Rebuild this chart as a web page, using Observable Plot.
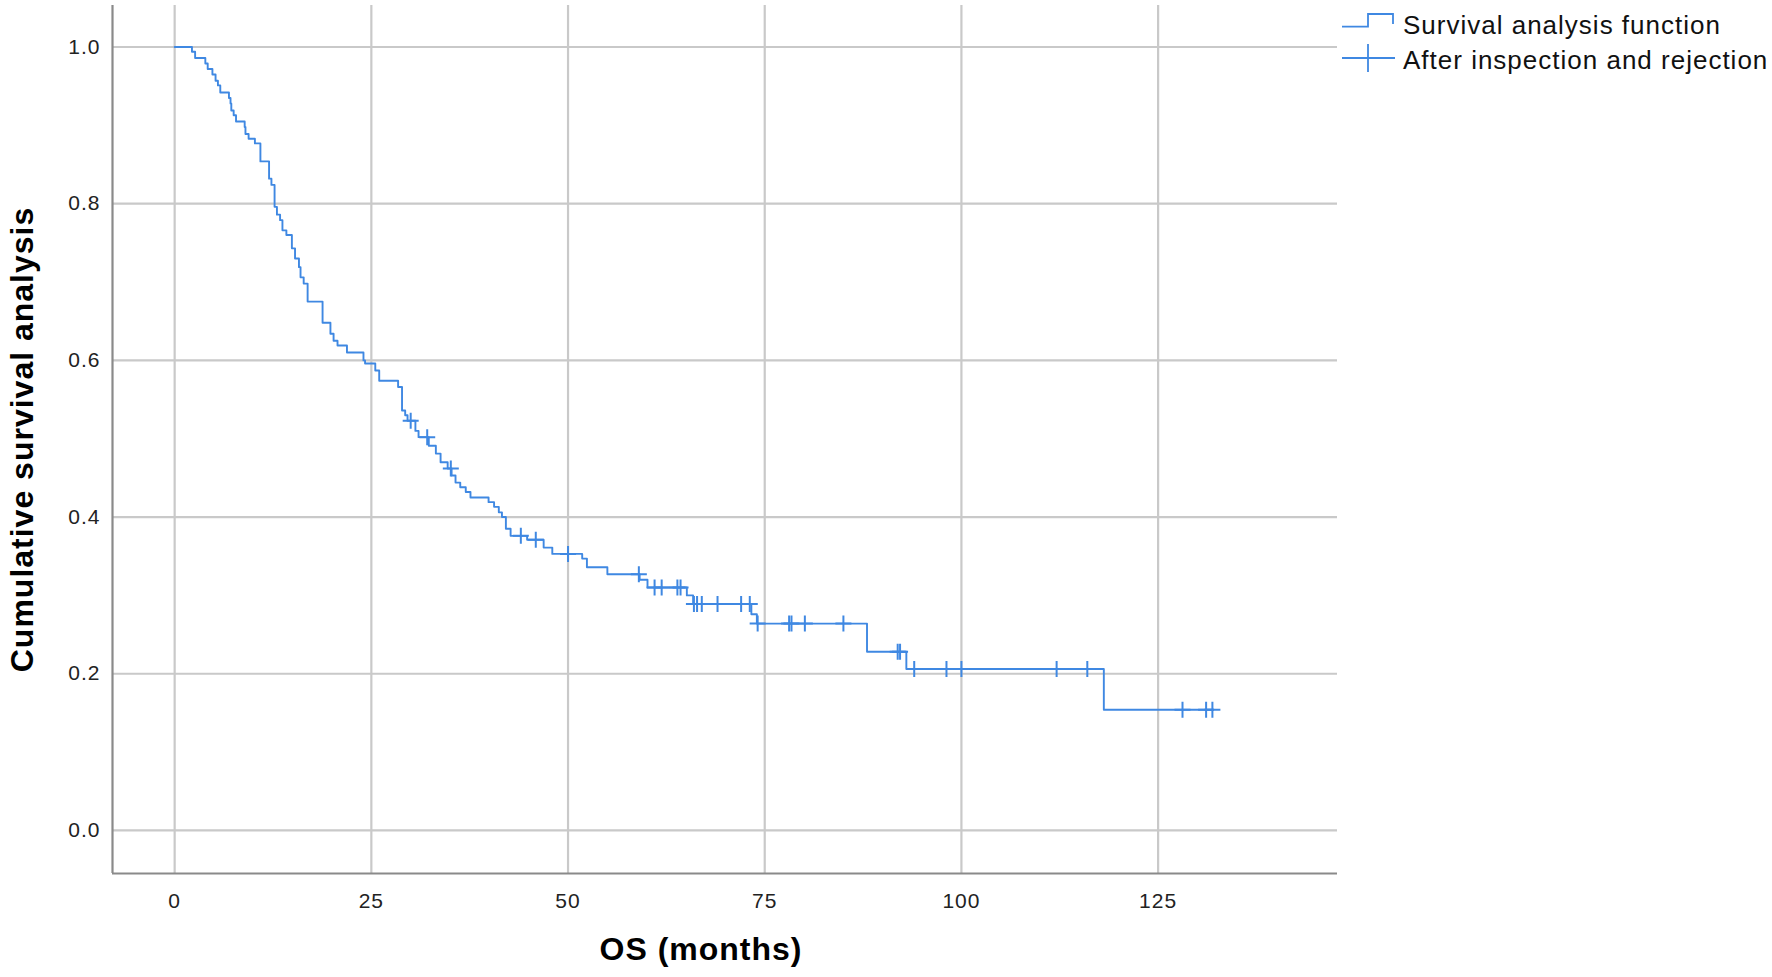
<!DOCTYPE html>
<html>
<head>
<meta charset="utf-8">
<script src="https://cdn.jsdelivr.net/npm/d3@7"></script>
<script src="https://cdn.jsdelivr.net/npm/@observablehq/plot@0.6"></script>
<style>
  html, body { margin: 0; padding: 0; background: #fff; }
  #wrap { position: relative; width: 1772px; height: 977px; }
  #wrap svg text { letter-spacing: 1px; }
  #legend { position: absolute; left: 1330px; top: 0; }
</style>
</head>
<body>
<div id="wrap"></div>
<script>
// Kaplan-Meier step points (time in months, cumulative survival after the step)
const stepTimes = [0, 2.2, 2.6, 3.9, 4.2, 4.8, 5.2, 5.5, 5.8, 6.9, 7.1, 7.2, 7.5, 7.8, 8.9, 9.0, 9.4, 10.2, 10.9, 12.0,
  12.3, 12.7, 13.0, 13.4, 13.7, 14.2, 14.9, 15.3, 15.8, 16.0, 16.4, 16.9, 18.8, 19.8, 20.2, 20.7, 21.9, 24.0, 24.2, 25.5,
  26.0, 28.4, 28.9, 29.3, 29.6, 30.6, 31.0, 32.3, 33.2, 33.8, 34.7, 35.2, 35.7, 36.3, 37.0, 37.6, 39.9, 40.6, 41.2, 41.6,
  42.1, 42.7, 44.8, 46.9, 48.0, 51.8, 52.4, 55.0, 59.1, 60.1, 65.1, 65.9, 73.3, 74.0, 88.0, 93.0, 118.1, 132.0];
const stepSurv = [1.000, 0.994, 0.986, 0.979, 0.972, 0.965, 0.957, 0.951, 0.942, 0.935, 0.928, 0.919, 0.913, 0.905, 0.898, 0.889, 0.883, 0.877, 0.854, 0.832,
  0.824, 0.796, 0.786, 0.779, 0.766, 0.760, 0.743, 0.730, 0.719, 0.706, 0.698, 0.675, 0.648, 0.634, 0.625, 0.619, 0.610, 0.600, 0.596, 0.587,
  0.574, 0.566, 0.536, 0.530, 0.523, 0.510, 0.502, 0.491, 0.481, 0.470, 0.462, 0.453, 0.444, 0.438, 0.432, 0.425, 0.419, 0.413, 0.406, 0.400,
  0.385, 0.376, 0.371, 0.361, 0.353, 0.347, 0.336, 0.327, 0.320, 0.310, 0.300, 0.289, 0.276, 0.264, 0.228, 0.206, 0.154, 0.154];

// Censored observations ("After inspection and rejection")
const censorTimes = [30.0, 32.1, 35.1, 44.0, 45.9, 50.0, 59.0, 61.0, 61.9, 63.9, 64.3, 66.0, 66.4, 67.0, 69.0, 72.0,
  73.1, 74.1, 78.1, 78.4, 80.1, 85.0, 91.9, 92.2, 94.0, 98.1, 100.0, 112.1, 116.0, 128.1, 131.1, 131.9];
const censorSurv = [0.523, 0.502, 0.462, 0.376, 0.371, 0.353, 0.327, 0.310, 0.310, 0.310, 0.310, 0.289, 0.289, 0.289, 0.289, 0.289,
  0.289, 0.264, 0.264, 0.264, 0.264, 0.264, 0.228, 0.228, 0.206, 0.206, 0.206, 0.206, 0.206, 0.154, 0.154, 0.154];

const xTicks = [0, 25, 50, 75, 100, 125];
const yTicks = [0.0, 0.2, 0.4, 0.6, 0.8, 1.0];
const xLabel = "OS (months)";
const yLabel = "Cumulative survival analysis";
const legendLabels = ["Survival analysis function", "After inspection and rejection"];

const curve = stepTimes.map((t, i) => ({t, s: stepSurv[i]}));
const censors = censorTimes.map((t, i) => ({t, s: censorSurv[i]}));

const lineColor = "#3f88e2";
const gridColor = "#c9c9c9";
const axisColor = "#8a8a8a";
const xDom = [-7.9, 147.8];
const yDom = [-0.055, 1.053];

const plusSymbol = {
  draw(ctx, size) {
    const r = Math.sqrt(size / Math.PI);
    ctx.moveTo(-r, 0); ctx.lineTo(r, 0);
    ctx.moveTo(0, -r); ctx.lineTo(0, r);
  }
};

const chart = Plot.plot({
  width: 1772,
  height: 977,
  marginLeft: 112,
  marginRight: 435,
  marginTop: 5,
  marginBottom: 104,
  style: {fontFamily: "'Liberation Sans', Arial, sans-serif", fontSize: "21px", color: "#222", background: "#fff"},
  x: {domain: xDom, label: null},
  y: {domain: yDom, label: null},
  marks: [
    Plot.gridX(xTicks, {stroke: gridColor, strokeWidth: 2.2, strokeOpacity: 1}),
    Plot.gridY(yTicks, {stroke: gridColor, strokeWidth: 2.2, strokeOpacity: 1}),
    Plot.ruleX([xDom[0]], {stroke: axisColor, strokeWidth: 2.2}),
    Plot.ruleY([yDom[0]], {stroke: axisColor, strokeWidth: 2.2}),
    Plot.axisX(xTicks, {tickSize: 0, tickPadding: 20, fontSize: 21, fill: "#222", label: null}),
    Plot.axisY(yTicks, {tickSize: 0, tickPadding: 12, fontSize: 21, fill: "#222", tickFormat: d3.format(".1f"), label: null}),
    Plot.line(curve, {x: "t", y: "s", curve: "step-after", stroke: lineColor, strokeWidth: 1.9}),
    Plot.dot(censors, {x: "t", y: "s", symbol: plusSymbol, r: 8, stroke: lineColor, strokeWidth: 2, fill: "none"}),
    Plot.text([xLabel], {frameAnchor: "bottom", dx: -24, dy: 76, lineAnchor: "middle", textAnchor: "middle",
      fontSize: 32, fontWeight: "bold", fill: "#000"}),
    Plot.text([yLabel], {frameAnchor: "left", dx: -90, rotate: -90, lineAnchor: "middle", textAnchor: "middle",
      fontSize: 32, fontWeight: "bold", fill: "#000"})
  ]
});

const wrap = document.getElementById("wrap");
wrap.appendChild(chart);

// Legend (outside the plotting frame, top right)
const ns = "http://www.w3.org/2000/svg";
const leg = document.createElementNS(ns, "svg");
leg.setAttribute("id", "legend");
leg.setAttribute("width", "442");
leg.setAttribute("height", "80");
leg.innerHTML = `
  <path d="M12,26.7 H38 V14 H63 V24" fill="none" stroke="${lineColor}" stroke-width="1.8"/>
  <path d="M12,58 H65 M38,44 V72" fill="none" stroke="${lineColor}" stroke-width="1.8"/>
  <text x="73" y="25" dominant-baseline="central" font-family="'Liberation Sans', Arial, sans-serif" font-size="26" letter-spacing="0.2" fill="#111">${legendLabels[0]}</text>
  <text x="73" y="59.5" dominant-baseline="central" font-family="'Liberation Sans', Arial, sans-serif" font-size="26" letter-spacing="0.2" fill="#111">${legendLabels[1]}</text>
`;
wrap.appendChild(leg);
</script>
</body>
</html>
